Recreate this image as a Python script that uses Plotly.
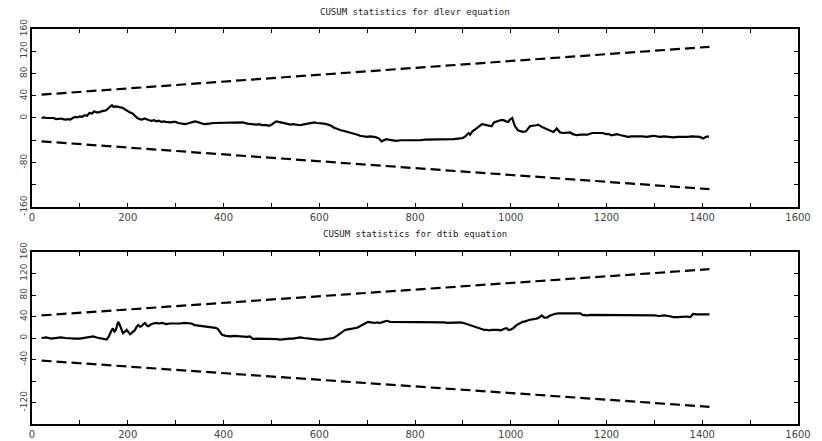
import plotly.graph_objects as go

# CUSUM path for the dlevr equation (observation index, statistic)
dlevr_t = [20, 25, 30, 35, 40, 45, 50, 55, 60, 65, 70, 75, 80, 85, 90, 95, 100, 105, 110, 115,
           120, 125, 130, 135, 140, 145, 150, 155, 160, 164, 167, 170, 175, 180, 185, 190, 195, 200, 205, 210,
           215, 220, 225, 230, 235, 240, 245, 250, 255, 260, 265, 270, 275, 280, 285, 290, 295, 300, 305, 310,
           315, 320, 325, 330, 335, 340, 345, 350, 355, 360, 365, 370, 380, 390, 400, 410, 420, 430, 440, 450,
           460, 470, 475, 480, 490, 495, 500, 505, 510, 515, 520, 525, 530, 540, 545, 550, 560, 565, 570, 575,
           580, 585, 590, 595, 600, 605, 610, 615, 620, 625, 630, 635, 640, 645, 650, 655, 660, 665, 670, 675,
           680, 685, 690, 695, 700, 705, 710, 715, 720, 725, 730, 735, 740, 745, 750, 760, 770, 780, 790, 800,
           810, 820, 830, 840, 850, 860, 870, 880, 890, 900, 905, 908, 912, 915, 920, 925, 930, 935, 940, 945,
           950, 955, 960, 965, 970, 975, 980, 985, 990, 995, 998, 1003, 1006, 1009, 1015, 1020, 1025, 1032, 1036, 1040,
           1045, 1050, 1054, 1057, 1062, 1065, 1070, 1075, 1080, 1085, 1089, 1093, 1096, 1100, 1103, 1110, 1117,
           1124, 1130, 1138, 1145, 1150, 1160, 1170, 1180, 1191, 1200, 1205, 1210, 1216, 1222, 1230, 1235, 1245,
           1252, 1260, 1268, 1275, 1283, 1290, 1298, 1305, 1313, 1320, 1330, 1340, 1348, 1355, 1363, 1370, 1378,
           1385, 1395, 1402, 1408, 1414]
dlevr_cusum = [0, 1, 0, 0, -1, 0, -2, -1, -1, -2, -3, -2, -3, 0, 2, 1, 3, 2, 5, 4,
               9, 8, 12, 10, 10, 12, 13, 14, 18, 20, 23, 20, 21, 20, 19, 18, 15, 12, 10, 8,
               3, 0, -2, -3, -1, -3, -4, -5, -4, -6, -5, -7, -6, -7, -8, -8, -7, -7, -9, -10,
               -10, -11, -10, -9, -7, -6, -7, -9, -10, -11, -10, -10, -9, -9, -9, -8, -9, -9, -8, -10,
               -11, -12, -11, -13, -13, -14, -12, -9, -6, -7, -8, -10, -11, -12, -11, -12, -13, -12, -11, -10,
               -9, -8, -8, -9, -9, -10, -10, -11, -12, -14, -17, -19, -21, -22, -23, -24, -25, -26, -27, -29,
               -30, -32, -33, -34, -34, -33, -33, -34, -35, -37, -42, -40, -38, -39, -40, -41, -40, -40, -41, -40,
               -40, -39, -39, -39, -39, -38, -38, -38, -37, -36, -33, -30, -27, -30, -24, -21, -18, -14, -11, -12,
               -13, -14, -15, -8, -6, -5, -4, -4, -6, -7, -3, 0, -8, -15, -22, -24, -25, -24, -20, -15,
               -14, -14, -13, -12, -15, -16, -18, -20, -22, -24, -25, -22, -19, -23, -26, -27, -26,
               -26, -29, -31, -30, -30, -30, -27, -27, -27, -29, -29, -31, -30, -29, -31, -32, -34,
               -33, -33, -32, -33, -34, -33, -32, -33, -34, -33, -34, -35, -34, -34, -35, -34, -33,
               -33, -34, -37, -34, -33]

# CUSUM path for the dtib equation
dtib_t = [20, 30, 40, 50, 60, 70, 80, 90, 100, 110, 120, 128, 135, 140, 148, 156, 160, 163, 166, 169,
          172, 175, 178, 180, 183, 185, 188, 190, 194, 198, 202, 205, 210, 215, 218, 222, 226, 229, 233, 236,
          240, 243, 248, 253, 260, 265, 272, 280, 288, 295, 303, 310, 318, 325, 333, 340, 348, 355, 362, 370,
          377, 383, 388, 390, 393, 397, 405, 414, 422, 430, 440, 449, 455, 462, 468, 475, 483, 490, 498, 505,
          512, 518, 525, 530, 538, 545, 553, 560, 568, 575, 583, 590, 598, 605, 614, 623, 630, 637, 645, 654,
          660, 665, 672, 679, 685, 690, 696, 702, 708, 715, 721, 727, 734, 741, 748, 755, 763, 770, 778, 785,
          793, 800, 808, 815, 823, 830, 838, 845, 853, 860, 868, 875, 885, 895, 905, 911, 920, 929, 935, 940,
          945, 950, 955, 960, 965, 970, 975, 978, 982, 985, 989, 992, 995, 998, 1002, 1005, 1012, 1020, 1025,
          1030, 1036, 1040, 1048, 1052, 1057, 1062, 1065, 1070, 1076, 1080, 1085, 1093, 1100, 1105, 1112, 1120,
          1128, 1135, 1140, 1145, 1150, 1159, 1167, 1175, 1183, 1190, 1198, 1205, 1213, 1220, 1230, 1240,
          1250, 1260, 1270, 1280, 1290, 1300, 1310, 1320, 1330, 1340, 1350, 1360, 1368, 1375, 1381, 1388,
          1395, 1405, 1415]
dtib_cusum = [0, 1, -1, 0, 1, 0, -1, -1, -1, 0, 2, 3, 1, 0, -2, -3, 2, 9, 14, 18,
              12, 15, 24, 30, 25, 21, 14, 9, 12, 15, 10, 7, 11, 15, 20, 24, 21, 22, 26, 28,
              23, 22, 25, 27, 28, 27, 28, 26, 27, 27, 26, 27, 28, 28, 27, 24, 23, 22, 22, 21,
              20, 19, 17, 15, 12, 6, 4, 3, 4, 3, 3, 2, 3, -2, -1, -1, -2, -2, -1, -1,
              -2, -3, -2, -2, -1, -1, 0, 1, 0, -1, -2, -3, -3, -3, -2, -2, 0, 4, 9, 15,
              16, 17, 18, 19, 22, 24, 27, 30, 29, 28, 29, 28, 30, 32, 30, 30, 29, 29, 30, 30,
              29, 29, 30, 30, 29, 29, 30, 29, 29, 29, 28, 28, 29, 29, 27, 25, 22, 19, 17, 16,
              15, 15, 14, 15, 15, 16, 15, 14, 16, 17, 18, 18, 15, 15, 17, 18, 24, 28, 30,
              31, 33, 34, 35, 36, 37, 40, 42, 38, 38, 41, 43, 45, 46, 46, 47, 46,
              46, 47, 46, 46, 43, 42, 43, 43, 42, 42, 43, 42, 42, 43, 42, 42,
              42, 42, 42, 42, 42, 42, 41, 42, 41, 39, 39, 40, 40, 39, 45, 44,
              44, 45, 44]

# 1% significance bounds (straight lines between the end points)
bound_t = [20, 1415]
bound_upper = [42, 128]
bound_lower = [-42, -128]

x_ticks = list(range(0, 1700, 100))
x_text = [str(v) if v % 200 == 0 else "" for v in x_ticks]
y_ticks = list(range(-160, 200, 40))
y_text_top = ["-160", "", "-80", "", "0", "40", "80", "120", "160"]
y_text_bottom = ["", "-120", "", "-40", "0", "40", "80", "120", "160"]

titles = ["CUSUM statistics for dlevr equation", "CUSUM statistics for dtib equation"]

fig = go.Figure()

panels = [("x", "y", dlevr_t, dlevr_cusum), ("x2", "y2", dtib_t, dtib_cusum)]
for xa, ya, t, c in panels:
    fig.add_trace(go.Scatter(x=bound_t, y=bound_upper, mode="lines", xaxis=xa, yaxis=ya,
                             line=dict(color="black", width=2.2, dash="10px,5px"), showlegend=False))
    fig.add_trace(go.Scatter(x=bound_t, y=bound_lower, mode="lines", xaxis=xa, yaxis=ya,
                             line=dict(color="black", width=2.2, dash="10px,5px"), showlegend=False))
    fig.add_trace(go.Scatter(x=t, y=c, mode="lines", xaxis=xa, yaxis=ya,
                             line=dict(color="black", width=2.2), showlegend=False))

x_font = dict(family="DejaVu Sans", size=10, color="#444444")
y_font = dict(family="DejaVu Sans", size=9, color="#444444")

x_common = dict(range=[0, 1600], tickvals=x_ticks, ticktext=x_text, ticks="inside", ticklen=4,
                tickcolor="black", showline=True, linecolor="black", linewidth=1.5,
                mirror="allticks", showgrid=False, zeroline=False, tickfont=x_font,
                automargin=False)
y_common = dict(range=[-160, 160], tickvals=y_ticks, ticks="inside", ticklen=4,
                tickcolor="black", showline=True, linecolor="black", linewidth=1.5,
                mirror="allticks", showgrid=False, zeroline=False, tickangle=-90, tickfont=y_font,
                automargin=False)

fig.update_layout(
    width=822, height=441,
    margin=dict(l=32, r=24, t=29, b=17),
    paper_bgcolor="white", plot_bgcolor="white",
    xaxis=dict(domain=[0, 1], anchor="y", **x_common),
    yaxis=dict(domain=[0.5494, 1], anchor="x", ticktext=y_text_top, **y_common),
    xaxis2=dict(domain=[0, 1], anchor="y2", **x_common),
    yaxis2=dict(domain=[0, 0.4354], anchor="x2", ticktext=y_text_bottom, **y_common),
    annotations=[
        dict(text=titles[0], xref="paper", yref="paper", x=0.5, y=1.0430, showarrow=False,
             xanchor="center", yanchor="middle",
             font=dict(family="DejaVu Sans Mono", size=9, color="#222222")),
        dict(text=titles[1], xref="paper", yref="paper", x=0.5, y=0.4810, showarrow=False,
             xanchor="center", yanchor="middle",
             font=dict(family="DejaVu Sans Mono", size=9, color="#222222")),
    ],
)

fig.write_html("out.html")
